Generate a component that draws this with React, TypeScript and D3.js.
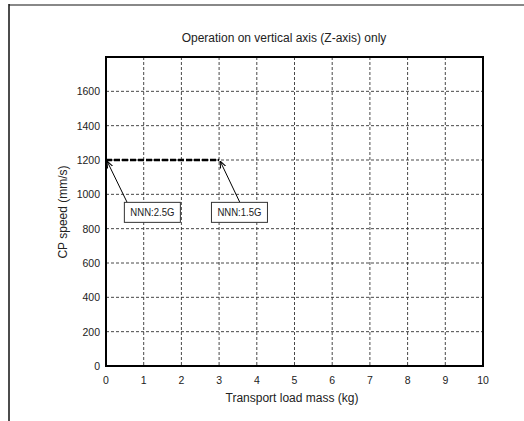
import React from "react";
import * as d3 from "d3";

const xTicks = [0, 1, 2, 3, 4, 5, 6, 7, 8, 9, 10];
const yTicks = [0, 200, 400, 600, 800, 1000, 1200, 1400, 1600];
const seriesMass = [0, 3];
const seriesSpeed = [1200, 1200];
const labels = ["NNN:2.5G", "NNN:1.5G"];
const labelAnchorX = [0, 3];
const labelAnchorY = [1200, 1200];
const labelBoxX = [1.23, 3.54];
const labelBoxY = [895, 895];
const labelLeaderX = [0.56, 3.55];

const W = 524, H = 421;
const left = 106, right = 483, top = 57, bottom = 366;
const FONT = "'Liberation Sans', Arial, sans-serif";

export default function App() {
  const x = d3.scaleLinear().domain([0, 10]).range([left, right]);
  const y = d3.scaleLinear().domain([0, 1800]).range([bottom, top]);
  const line = d3.line<number>().x((_, i) => x(seriesMass[i])).y((d) => y(d));

  return (
    <svg width={W} height={H} style={{ position: "absolute", left: 0, top: 0 }}>
      <defs>
        <marker id="arr" viewBox="0 0 10 10" refX="10" refY="5" markerWidth="7" markerHeight="7" markerUnits="userSpaceOnUse" orient="auto">
          <path d="M0,1 L10,5 L0,9" fill="none" stroke="#000" strokeWidth="1.5" />
        </marker>
      </defs>
      <rect x={0} y={0} width={W} height={H} fill="#fff" />
      <line x1={9} y1={5} x2={W} y2={5} stroke="#888" strokeWidth={2} />
      <line x1={9} y1={4} x2={9} y2={H} stroke="#111" strokeWidth={1.5} />
      <text x={284} y={42} textAnchor="middle" fontFamily={FONT} fontSize={12} fill="#222">
        Operation on vertical axis (Z-axis) only
      </text>
      {xTicks.slice(1, -1).map((t) => (
        <line key={"gx" + t} x1={x(t)} x2={x(t)} y1={top} y2={bottom} stroke="#333" strokeWidth={0.9} strokeDasharray="3,2" />
      ))}
      {yTicks.slice(1).map((t) => (
        <line key={"gy" + t} x1={left} x2={right} y1={y(t)} y2={y(t)} stroke="#333" strokeWidth={0.9} strokeDasharray="3,2" />
      ))}
      <rect x={left} y={top} width={right - left} height={bottom - top} fill="none" stroke="#000" strokeWidth={2} />
      {xTicks.map((t) => (
        <text key={"tx" + t} x={x(t)} y={384} textAnchor="middle" fontFamily={FONT} fontSize={10.5} fill="#222">{t}</text>
      ))}
      {yTicks.map((t) => (
        <text key={"ty" + t} x={100} y={y(t) + 4} textAnchor="end" fontFamily={FONT} fontSize={10.5} fill="#222">{t}</text>
      ))}
      <text x={292} y={402} textAnchor="middle" fontFamily={FONT} fontSize={12} fill="#222">Transport load mass (kg)</text>
      <text transform={`translate(67,212) rotate(-90)`} textAnchor="middle" fontFamily={FONT} fontSize={12} fill="#222">CP speed (mm/s)</text>
      <path d={line(seriesSpeed) || ""} fill="none" stroke="#000" strokeWidth={2.5} strokeDasharray="6,2" />
      {labels.map((lb, i) => {
        const bx = x(labelBoxX[i]);
        const by = y(labelBoxY[i]);
        const bw = 56, bh = 20;
        return (
          <g key={lb}>
            <line x1={x(labelLeaderX[i])} y1={by - bh / 2} x2={x(labelAnchorX[i]) + 1} y2={y(labelAnchorY[i]) + 1} stroke="#000" strokeWidth={1} markerEnd="url(#arr)" />
            <rect x={bx - bw / 2} y={by - bh / 2} width={bw} height={bh} fill="#fff" stroke="#333" strokeWidth={1} />
            <text x={bx} y={by + 4} textAnchor="middle" fontFamily={FONT} fontSize={10.5} fill="#222" textLength={44} lengthAdjust="spacingAndGlyphs">{lb}</text>
          </g>
        );
      })}
    </svg>
  );
}
